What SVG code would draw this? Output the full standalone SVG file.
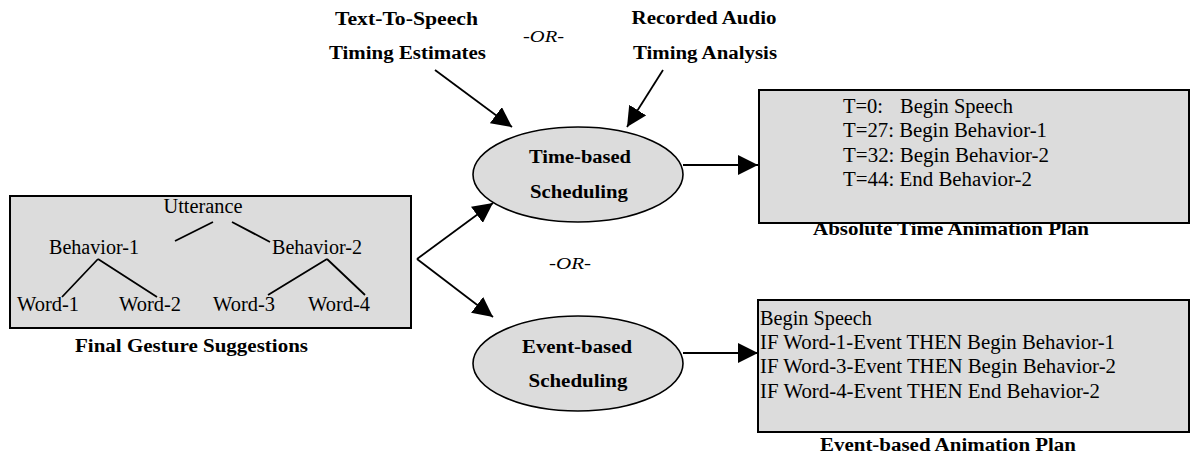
<svg xmlns="http://www.w3.org/2000/svg" width="1190" height="455" viewBox="0 0 1190 455">
<style>
.box{fill:#dcdcdc;stroke:#000;stroke-width:2}
.ell{fill:#dcdcdc;stroke:#000;stroke-width:1.6}
.t{font-family:"Liberation Serif","Times New Roman",serif;font-size:20px;fill:#000}
.b{font-family:"Liberation Serif","Times New Roman",serif;font-size:18px;font-weight:bold;fill:#000}
.i{font-family:"Liberation Serif","Times New Roman",serif;font-size:17px;font-style:italic;fill:#000}
.m{text-anchor:middle}
.ln{stroke:#000;stroke-width:1.8;fill:none}
.arr{stroke:#000;stroke-width:1.8;fill:none;marker-end:url(#ah)}
</style>
<defs>
<marker id="ah" markerUnits="userSpaceOnUse" markerWidth="20" markerHeight="20" refX="20" refY="10" orient="auto" viewBox="0 0 20 20">
<path d="M0,0 L20,10 L0,20 z" fill="#000"/>
</marker>
</defs>
<rect width="1190" height="455" fill="#fff"/>

<g id="final-gesture-suggestions">
<rect class="box" x="10" y="196" width="401" height="132"/>
<text class="t m" x="203" y="213" textLength="79" lengthAdjust="spacingAndGlyphs">Utterance</text>
<text class="t" x="49" y="254" textLength="90" lengthAdjust="spacingAndGlyphs">Behavior-1</text>
<text class="t" x="272" y="254" textLength="90" lengthAdjust="spacingAndGlyphs">Behavior-2</text>
<text class="t" x="17" y="311" textLength="62" lengthAdjust="spacingAndGlyphs">Word-1</text>
<text class="t" x="119" y="311" textLength="62" lengthAdjust="spacingAndGlyphs">Word-2</text>
<text class="t" x="213" y="311" textLength="62" lengthAdjust="spacingAndGlyphs">Word-3</text>
<text class="t" x="308" y="311" textLength="62" lengthAdjust="spacingAndGlyphs">Word-4</text>
<path class="ln" d="M213,222 L175,241 M232,222 L270,242 M98,259 L62,297 M98,259 L157,297 M327,259 L268,295 M327,259 L365,295"/>
<text class="b m" x="191.5" y="352" textLength="233" lengthAdjust="spacingAndGlyphs">Final Gesture Suggestions</text>
</g>

<g id="tts-timing">
<text class="b m" x="406.5" y="25" textLength="143" lengthAdjust="spacingAndGlyphs">Text-To-Speech</text>
<text class="b m" x="407.5" y="59" textLength="157" lengthAdjust="spacingAndGlyphs">Timing Estimates</text>
</g>

<g id="recorded-audio">
<text class="b m" x="704" y="24" textLength="145" lengthAdjust="spacingAndGlyphs">Recorded Audio</text>
<text class="b m" x="705" y="59" textLength="144" lengthAdjust="spacingAndGlyphs">Timing Analysis</text>
</g>

<g id="or-labels">
<text class="i m" x="543.5" y="42" textLength="41" lengthAdjust="spacingAndGlyphs">-OR-</text>
<text class="i m" x="570" y="269" textLength="42" lengthAdjust="spacingAndGlyphs">-OR-</text>
</g>

<g id="time-based-scheduling">
<ellipse class="ell" cx="578" cy="174.5" rx="105" ry="47.5"/>
<text class="b m" x="580" y="163" textLength="102" lengthAdjust="spacingAndGlyphs">Time-based</text>
<text class="b m" x="579" y="198" textLength="98" lengthAdjust="spacingAndGlyphs">Scheduling</text>
</g>

<g id="event-based-scheduling">
<ellipse class="ell" cx="578" cy="363.5" rx="105" ry="47.5"/>
<text class="b m" x="577" y="353" textLength="110" lengthAdjust="spacingAndGlyphs">Event-based</text>
<text class="b m" x="578" y="387" textLength="99" lengthAdjust="spacingAndGlyphs">Scheduling</text>
</g>

<g id="absolute-time-plan">
<rect class="box" x="759" y="90" width="430" height="133"/>
<text class="t" x="843" y="113" textLength="40" lengthAdjust="spacingAndGlyphs">T=0:</text>
<text class="t" x="900" y="113" textLength="113" lengthAdjust="spacingAndGlyphs">Begin Speech</text>
<text class="t" x="843" y="137" textLength="204" lengthAdjust="spacingAndGlyphs">T=27: Begin Behavior-1</text>
<text class="t" x="843" y="162" textLength="206" lengthAdjust="spacingAndGlyphs">T=32: Begin Behavior-2</text>
<text class="t" x="843" y="186" textLength="189" lengthAdjust="spacingAndGlyphs">T=44: End Behavior-2</text>
<text class="b m" x="951" y="235" textLength="276" lengthAdjust="spacingAndGlyphs">Absolute Time Animation Plan</text>
</g>

<g id="event-based-plan">
<rect class="box" x="758" y="300" width="431" height="132"/>
<text class="t" x="760" y="325" textLength="112" lengthAdjust="spacingAndGlyphs">Begin Speech</text>
<text class="t" x="760" y="349" textLength="355" lengthAdjust="spacingAndGlyphs">IF Word-1-Event THEN Begin Behavior-1</text>
<text class="t" x="760" y="373" textLength="356" lengthAdjust="spacingAndGlyphs">IF Word-3-Event THEN Begin Behavior-2</text>
<text class="t" x="760" y="398" textLength="340" lengthAdjust="spacingAndGlyphs">IF Word-4-Event THEN End Behavior-2</text>
<text class="b m" x="948" y="451" textLength="256" lengthAdjust="spacingAndGlyphs">Event-based Animation Plan</text>
</g>

<g id="connectors">
<path class="arr" d="M435,70 L512,127"/>
<path class="arr" d="M663,70 L627,127"/>
<path class="arr" d="M417,259 L493,203"/>
<path class="arr" d="M417,259 L493,317"/>
<path class="arr" d="M683,165 L758,165"/>
<path class="arr" d="M683,353 L758,353"/>
</g>
</svg>
